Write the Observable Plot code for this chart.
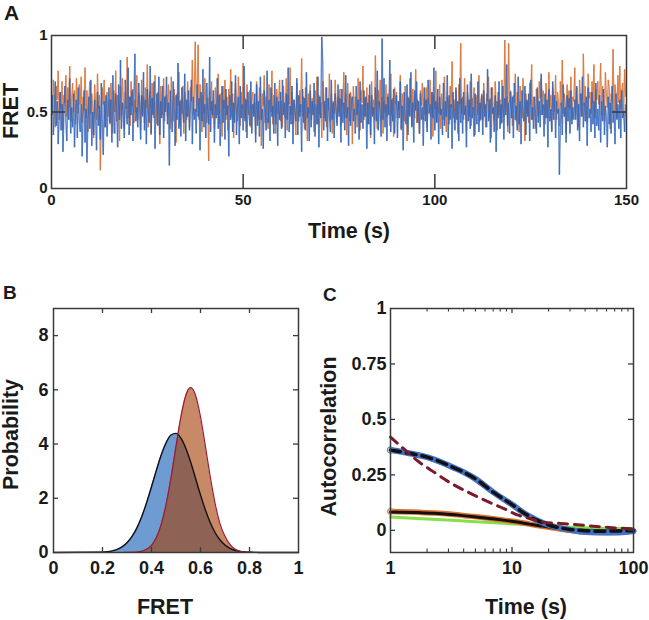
<!DOCTYPE html>
<html><head><meta charset="utf-8">
<script src="https://cdn.jsdelivr.net/npm/d3@7"></script>
<script src="https://cdn.jsdelivr.net/npm/@observablehq/plot@0.6"></script>
<style>
body{margin:0;background:#fff;font-family:"Liberation Sans",Arial,sans-serif;}
#wrap{position:relative;width:649px;height:620px;overflow:hidden;}
.lbl{position:absolute;font-family:"Liberation Sans",Arial,sans-serif;font-weight:bold;line-height:1;color:#1a1a1a;}
</style></head><body>
<div id="wrap">
<div class="lbl" style="left:4px;top:2px;font-size:21px">A</div>
<div class="lbl" style="left:3px;top:283px;font-size:19px">B</div>
<div class="lbl" style="left:323px;top:285px;font-size:19px">C</div>
</div>
<script>
// ---------- Panel A: FRET time traces (value x100, one point every 0.25 s) ----------
const traceDt = 0.25;
const traceBlue = [
48,61,35,52,70,41,57,29,46,63,38,55,24,50,67,43,31,58,45,72,36,53,40,62,27,49,58,33,66,44,
37,55,21,48,64,30,52,17,44,60,39,71,28,50,35,58,46,25,63,41,54,32,69,45,22,57,40,61,34,52,
66,43,58,30,74,49,36,62,53,27,68,45,84,39,56,47,33,71,50,42,79,35,60,48,64,31,57,88,44,53,
40,69,55,32,61,47,76,38,58,29,65,51,43,80,36,59,48,70,26,54,62,41,73,35,57,46,67,33,60,50,
73,42,56,15,64,49,37,70,53,28,61,45,82,39,57,34,66,50,43,75,31,58,47,64,38,54,71,29,60,45,
52,36,68,47,59,25,63,44,78,40,55,33,69,51,42,86,37,57,48,64,30,55,46,72,39,61,28,53,67,43,
58,32,65,48,54,21,61,45,70,37,56,43,74,35,52,60,29,67,46,55,38,80,44,58,33,63,49,41,70,36,
55,47,62,30,68,41,57,34,73,45,52,26,64,50,38,77,43,58,31,66,47,54,36,69,42,60,28,57,45,63,
39,71,48,56,33,62,45,79,37,54,42,67,29,58,50,44,72,35,61,47,55,24,65,43,59,38,76,46,53,31,
64,40,57,48,69,34,55,42,73,27,60,46,99,83,38,57,44,66,31,59,48,37,71,45,56,33,62,50,41,68,
47,59,30,65,43,56,38,74,46,53,28,62,41,57,60,44,52,36,67,48,58,32,70,43,55,39,64,47,60,26,
56,42,68,35,61,47,53,29,66,44,77,38,57,49,34,98,45,72,40,55,31,60,48,84,37,58,44,65,36,52,
61,33,57,46,70,39,54,25,63,48,42,68,35,59,47,76,40,56,30,64,51,70,43,57,36,62,45,53,28,66,
44,58,37,71,49,55,32,63,46,79,38,57,43,65,29,60,48,52,35,69,41,57,47,74,33,61,45,55,26,63,
50,38,66,45,57,31,72,43,59,36,63,48,54,27,68,44,58,39,75,46,53,34,62,49,42,70,37,56,45,61,
35,64,47,55,40,78,44,58,30,66,49,53,37,61,24,57,46,70,39,55,43,67,32,59,48,81,41,56,36,63,
46,60,33,69,45,54,38,73,42,57,29,64,50,44,67,35,58,47,62,31,71,45,53,39,60,48,36,66,43,57,
40,75,48,55,34,62,46,58,27,65,44,52,37,70,45,61,33,57,49,52,9,42,56,35,68,47,53,30,61,44,
59,36,64,42,53,45,58,45,67,38,55,31,62,47,73,40,56,44,60,28,66,46,52,37,63,42,57,33,69,41,
52,38,61,30,57,44,65,35,54,47,27,60,42,56,36,67,43,51,29,62,45,55,39,58,33,64,46,50,37,55];
const traceOrange = [
62,48,71,55,40,67,58,77,45,63,52,70,38,61,56,74,47,66,53,80,44,59,69,50,64,42,72,57,49,68,
55,73,43,60,51,79,46,64,37,58,70,49,62,54,33,68,57,45,75,52,61,12,48,66,55,71,40,59,63,47,
58,42,69,53,36,64,50,77,44,61,55,31,67,48,72,57,39,63,52,86,46,60,41,70,54,65,43,58,50,74,
45,62,55,38,71,49,60,43,66,53,81,40,57,64,35,69,51,46,74,58,42,63,50,29,67,55,48,72,44,59,
61,47,68,52,39,73,56,44,65,50,30,62,54,76,41,58,49,67,36,63,55,45,70,52,40,66,57,84,48,60,
96,50,63,94,45,68,53,37,61,49,72,56,43,59,18,64,51,70,46,58,39,66,54,48,75,42,62,55,34,67,
52,71,45,60,38,65,54,78,47,62,33,57,69,50,44,73,56,41,63,52,82,46,59,37,68,53,48,64,40,58,
63,49,56,35,70,51,45,66,58,28,62,54,74,43,60,47,39,68,55,50,77,42,61,53,36,65,49,58,71,44,
57,40,67,53,46,72,38,61,55,79,48,63,42,58,51,35,69,56,44,64,50,85,47,60,39,66,54,31,62,49,
68,45,59,52,37,64,55,73,42,61,48,56,33,70,53,46,66,40,59,51,75,44,62,36,57,49,71,54,43,60,
50,65,41,58,54,76,46,62,35,69,52,44,63,57,29,67,48,60,55,40,72,51,38,64,56,80,45,59,47,66,
42,61,55,33,70,49,58,45,87,52,39,64,53,71,44,60,36,57,50,68,47,62,54,41,75,48,59,34,66,55,
63,46,57,51,74,38,62,53,44,67,56,31,60,48,72,55,41,65,52,46,78,43,58,50,36,64,54,69,45,59,
48,66,40,59,55,71,47,63,34,61,52,77,44,56,49,68,39,62,54,45,73,50,37,60,57,42,67,53,83,46,
58,43,64,51,36,68,55,95,49,60,45,72,53,38,63,56,47,70,41,59,52,66,35,61,55,48,74,44,57,62,
45,69,54,40,62,57,73,46,59,33,66,51,44,70,55,38,63,48,58,42,71,53,47,97,50,60,37,95,56,64,
53,41,61,56,75,44,63,50,37,67,54,46,72,58,31,62,49,57,43,69,55,81,45,60,52,39,65,54,47,70,
59,72,48,64,55,42,69,57,46,76,53,61,38,66,58,50,74,45,63,56,41,70,54,84,49,62,57,36,68,53,
64,52,73,45,60,57,79,48,66,55,40,71,58,62,47,88,54,67,50,43,75,59,63,49,70,56,81,46,65,58,
70,55,62,82,48,67,58,44,76,60,53,71,65,39,62,57,91,50,68,61,46,74,56,80,52,63,69,47,78,60];
const traceXTicks = [0, 50, 100, 150];
const traceYTicks = [0, 0.5, 1];

// ---------- Panel B: FRET histograms (probability density) ----------
const histX = [0,0.20,0.22,0.24,0.26,0.28,0.30,0.32,0.34,0.36,0.38,0.40,0.42,0.44,0.46,0.48,0.50,0.52,0.54,0.56,0.58,0.60,0.62,0.64,0.66,0.68,0.70,0.72,0.74,0.76,0.78,0.80,0.82,0.84,1];
const histBlue = [0,0.014,0.030,0.060,0.115,0.208,0.357,0.582,0.900,1.320,1.837,2.424,3.035,3.603,4.058,4.335,4.393,4.222,3.849,3.329,2.730,2.124,1.567,1.097,0.729,0.459,0.274,0.155,0.083,0.043,0.021,0.009,0.004,0.002,0];
const histOrange = [0,0,0,0,0,0.0005,0.002,0.005,0.017,0.046,0.116,0.267,0.556,1.048,1.794,2.783,3.918,5.001,5.790,6.080,5.790,5.001,3.918,2.783,1.794,1.048,0.60,0.30,0.13,0.05,0.018,0.006,0.002,0,0];
const histXTicks = [0, 0.2, 0.4, 0.6, 0.8, 1];
const histYTicks = [0, 2, 4, 6, 8];

// ---------- Panel C: autocorrelation ----------
const acBlueX   = [1, 1.5, 2, 3, 4, 5, 7, 10, 13, 16, 20, 25, 30, 40, 50, 70, 100];
const acBlue    = [0.362, 0.345, 0.330, 0.293, 0.262, 0.232, 0.172, 0.116, 0.072, 0.046, 0.024, 0.010, 0.002, -0.008, -0.010, -0.010, -0.003];
const acBlueFit = [0.362, 0.345, 0.330, 0.293, 0.262, 0.232, 0.172, 0.116, 0.072, 0.046, 0.024, 0.011, 0.004, -0.002, -0.004, -0.003, -0.002];
const acRedX    = [1, 1.3, 1.7, 2.2, 3.2, 4.5, 6, 8.5, 11.4, 14, 17.8, 25, 31.4, 55.6, 100];
const acRedFit  = [0.42, 0.365, 0.31, 0.268, 0.21, 0.168, 0.135, 0.099, 0.067, 0.053, 0.037, 0.031, 0.027, 0.015, 0.006];
const acOrangeX   = [1, 1.7, 2.3, 3.2, 4.5, 6, 8.5, 11.4, 14, 17.8, 22, 27.7, 32, 40, 60, 100];
const acOrange    = [0.085, 0.082, 0.078, 0.072, 0.064, 0.057, 0.046, 0.037, 0.028, 0.018, 0.010, 0.003, -0.002, -0.008, -0.010, -0.004];
const acOrangeFit = [0.083, 0.080, 0.077, 0.071, 0.063, 0.056, 0.046, 0.036, 0.028, 0.019, 0.012, 0.006, 0.003, 0.000, -0.002, -0.002];
const acGreenX = [1, 2, 3.2, 6, 11.4, 20, 40, 100];
const acGreen  = [0.060, 0.051, 0.045, 0.036, 0.027, 0.018, 0.012, 0.008];
const acXTicks = [1, 10, 100];
const acXMinor = [2,3,4,5,6,7,8,9,20,30,40,50,60,70,80,90];
const acYTicks = [0, 0.25, 0.5, 0.75, 1];

// ---------- helpers ----------
const FONT = "Liberation Sans, Arial, Helvetica, sans-serif";
const INK = "#1a1a1a";
const FRAME = "#3a3a3a";
const wrap = document.getElementById("wrap");
function place(svg, left, top) {
  svg.style.position = "absolute";
  svg.style.left = left + "px";
  svg.style.top = top + "px";
  wrap.appendChild(svg);
}
function baseStyle(size) {
  return {fontFamily: FONT, fontSize: size + "px", fontWeight: "bold", color: INK, background: "transparent", overflow: "visible"};
}
function title(txt, opts) {
  return Plot.text([txt], {text: d => d, fontSize: 21.5, fontWeight: "bold", fill: INK, textAnchor: "middle", ...opts});
}
function segments(vals) {
  return d3.pairs(vals.map((v, i) => ({t: i * traceDt, f: v / 100})))
    .map(([a, b]) => ({x1: a.t, y1: a.f, x2: b.t, y2: b.f}));
}

// ---------- Panel A ----------
{
  const W = 649, H = 250, ml = 51, mr = 23, mt = 35, mb = 62;
  const fw = W - ml - mr, fh = H - mt - mb;
  const tyLen = 14 / fh;
  const txLen = 14 / fw * 150;
  const inner = traceXTicks.slice(1, -1);
  const innerY = traceYTicks.slice(1, -1);
  const svg = Plot.plot({
    width: W, height: H, marginLeft: ml, marginRight: mr, marginTop: mt, marginBottom: mb,
    style: baseStyle(15),
    x: {domain: [0, 150], ticks: traceXTicks, tickSize: 0, tickPadding: 6, tickFormat: d => String(d), label: null},
    y: {domain: [0, 1], ticks: traceYTicks, tickSize: 0, tickPadding: 4, tickFormat: d => String(d), label: null},
    marks: [
      Plot.link(segments(traceOrange), {x1: "x1", y1: "y1", x2: "x2", y2: "y2", stroke: "#da763a", strokeOpacity: 0.85, strokeWidth: 1.3}),
      Plot.link(segments(traceBlue), {x1: "x1", y1: "y1", x2: "x2", y2: "y2", stroke: "#3064bb", strokeOpacity: 0.75, strokeWidth: 1.4}),
      Plot.ruleX(inner, {x: d => d, y1: 0, y2: tyLen, stroke: FRAME, strokeWidth: 1.5}),
      Plot.ruleX(inner, {x: d => d, y1: 1, y2: 1 - tyLen, stroke: FRAME, strokeWidth: 1.5}),
      Plot.ruleY(innerY, {y: d => d, x1: 0, x2: txLen, stroke: FRAME, strokeWidth: 1.5}),
      Plot.ruleY(innerY, {y: d => d, x1: 150, x2: 150 - txLen, stroke: FRAME, strokeWidth: 1.5}),
      Plot.frame({stroke: FRAME, strokeWidth: 1.5}),
      title("Time (s)", {frameAnchor: "bottom", lineAnchor: "top", dy: 34, dx: 10}),
      title("FRET", {frameAnchor: "left", rotate: -90, lineAnchor: "middle", dx: -40, dy: -1})
    ]
  });
  place(svg, 0, 0);
}

// ---------- Panel B ----------
{
  const W = 320, H = 340, ml = 53, mr = 22, mt = 28, mb = 68;
  const fw = W - ml - mr, fh = H - mt - mb;
  const tyLen = 5 / fh * 9, txLen = 5 / fw * 1;
  const hist = histX.map((x, i) => ({x, blue: histBlue[i], orange: histOrange[i]}));
  const innerX = histXTicks.slice(1, -1), innerY = histYTicks.slice(1);
  const svg = Plot.plot({
    width: W, height: H, marginLeft: ml, marginRight: mr, marginTop: mt, marginBottom: mb,
    style: baseStyle(18),
    x: {domain: [0, 1], ticks: histXTicks, tickSize: 0, tickPadding: 9, tickFormat: d => String(d), label: null},
    y: {domain: [0, 9], ticks: histYTicks, tickSize: 0, tickPadding: 5, tickFormat: d => String(d), label: null},
    marks: [
      Plot.areaY(hist, {x: "x", y: "blue", fill: "#6e9bd2", curve: "monotone-x"}),
      Plot.areaY(hist, {x: "x", y: "orange", fill: "#a33c00", fillOpacity: 0.6, curve: "monotone-x"}),
      Plot.lineY(hist, {x: "x", y: "blue", stroke: "#111", strokeWidth: 1.4, curve: "monotone-x"}),
      Plot.lineY(hist, {x: "x", y: "orange", stroke: "#9b1b35", strokeWidth: 1.2, curve: "monotone-x"}),
      Plot.ruleX(innerX, {x: d => d, y1: 0, y2: tyLen, stroke: FRAME, strokeWidth: 1.3}),
      Plot.ruleX(innerX, {x: d => d, y1: 9, y2: 9 - tyLen, stroke: FRAME, strokeWidth: 1.3}),
      Plot.ruleY(innerY, {y: d => d, x1: 0, x2: txLen, stroke: FRAME, strokeWidth: 1.3}),
      Plot.ruleY(innerY, {y: d => d, x1: 1, x2: 1 - txLen, stroke: FRAME, strokeWidth: 1.3}),
      Plot.frame({stroke: FRAME, strokeWidth: 1.5}),
      title("FRET", {frameAnchor: "bottom", lineAnchor: "top", dy: 46, dx: -11}),
      title("Probability", {frameAnchor: "left", rotate: -90, lineAnchor: "middle", dx: -42, dy: 4})
    ]
  });
  place(svg, 0, 280);
}

// ---------- Panel C ----------
{
  const W = 329, H = 340, ml = 70, mr = 16, mt = 28, mb = 68;
  const fw = W - ml - mr, fh = H - mt - mb;
  const y0 = -0.1, y1 = 1;
  const tyLen = 5 / fh * (y1 - y0), tyMinor = 3.5 / fh * (y1 - y0);
  const txFac = Math.pow(10, 5 / fw * 2);
  const pts = (xs, ys) => xs.map((x, i) => ({x, y: ys[i]}));
  const innerX = acXTicks.slice(1, -1), innerY = acYTicks.slice(0, -1);
  const svg = Plot.plot({
    width: W, height: H, marginLeft: ml, marginRight: mr, marginTop: mt, marginBottom: mb,
    style: baseStyle(18),
    x: {type: "log", domain: [1, 100], ticks: acXTicks, tickSize: 0, tickPadding: 9, tickFormat: d => String(d), label: null},
    y: {domain: [y0, y1], ticks: acYTicks, tickSize: 0, tickPadding: 4, tickFormat: d => String(d), label: null},
    marks: [
      Plot.line(pts(acGreenX, acGreen), {x: "x", y: "y", stroke: "#86e04a", strokeWidth: 3, curve: "monotone-x"}),
      Plot.line(pts(acOrangeX, acOrange), {x: "x", y: "y", stroke: "#e0702f", strokeWidth: 5.5, strokeLinecap: "round", curve: "monotone-x"}),
      Plot.dot([0], {x: i => acOrangeX[i], y: i => acOrange[i], r: 3, stroke: "#e0702f", fill: "#f3c9a8", strokeWidth: 1}),
      Plot.line(pts(acOrangeX, acOrangeFit), {x: "x", y: "y", stroke: "#111", strokeWidth: 3, curve: "monotone-x"}),
      Plot.line(pts(acBlueX, acBlue), {x: "x", y: "y", stroke: "#4472c4", strokeWidth: 6, strokeLinecap: "round", curve: "monotone-x"}),
      Plot.dot([0], {x: i => acBlueX[i], y: i => acBlue[i], r: 3.2, stroke: "#4472c4", fill: "#dfe8f6", strokeWidth: 1}),
      Plot.line(pts(acBlueX, acBlueFit), {x: "x", y: "y", stroke: "#111", strokeWidth: 3.5, strokeDasharray: "10,6", curve: "monotone-x"}),
      Plot.line(pts(acRedX, acRedFit), {x: "x", y: "y", stroke: "#7a1a2a", strokeWidth: 3, strokeDasharray: "9,7", curve: "monotone-x"}),
      Plot.ruleX(innerX, {x: d => d, y1: y0, y2: y0 + tyLen, stroke: FRAME, strokeWidth: 1.3}),
      Plot.ruleX(innerX, {x: d => d, y1: y1, y2: y1 - tyLen, stroke: FRAME, strokeWidth: 1.3}),
      Plot.ruleX(acXMinor, {x: d => d, y1: y0, y2: y0 + tyMinor, stroke: FRAME, strokeWidth: 1.1}),
      Plot.ruleX(acXMinor, {x: d => d, y1: y1, y2: y1 - tyMinor, stroke: FRAME, strokeWidth: 1.1}),
      Plot.ruleY(innerY, {y: d => d, x1: 1, x2: txFac, stroke: FRAME, strokeWidth: 1.3}),
      Plot.ruleY(innerY, {y: d => d, x1: 100, x2: 100 / txFac, stroke: FRAME, strokeWidth: 1.3}),
      Plot.frame({stroke: FRAME, strokeWidth: 1.5}),
      title("Time (s)", {frameAnchor: "bottom", lineAnchor: "top", dy: 46, dx: 14}),
      title("Autocorrelation", {frameAnchor: "left", rotate: -90, lineAnchor: "middle", dx: -61, dy: 6})
    ]
  });
  place(svg, 320, 280);
}
</script>
</body></html>
